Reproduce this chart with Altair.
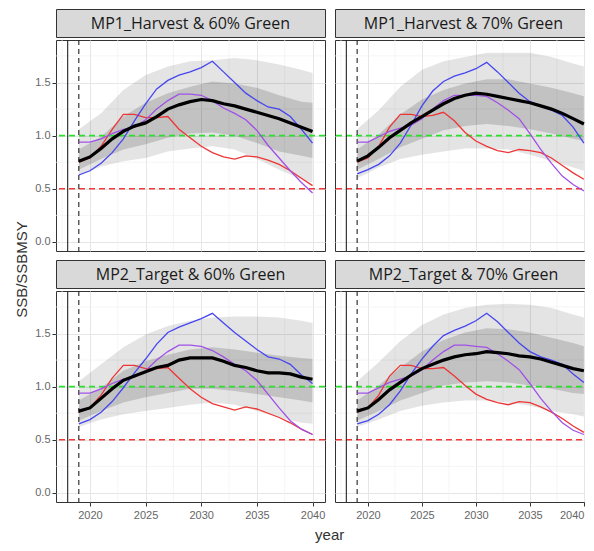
import altair as alt
import pandas as pd

# ---------------- data ----------------
years = list(range(2019, 2041))
band_years = [2019, 2021, 2023, 2025, 2027, 2029, 2031, 2033, 2035, 2037, 2039, 2040]

titles = ["MP1_Harvest & 60% Green", "MP1_Harvest & 70% Green",
          "MP2_Target & 60% Green", "MP2_Target & 70% Green"]

x_ticks = [2020, 2025, 2030, 2035, 2040]
x_minor = [2017.5, 2022.5, 2027.5, 2032.5, 2037.5]
y_ticks = [0.0, 0.5, 1.0, 1.5]
y_minor = [0.25, 0.75, 1.25, 1.75]

ref_green = [1.0]
ref_red = [0.5]
vline_solid = [2018]
vline_dashed = [2019]

p1_median = [0.76,0.80,0.88,0.97,1.04,1.09,1.12,1.18,1.25,1.29,1.32,1.34,1.33,1.30,1.28,1.25,1.22,1.19,1.16,1.12,1.08,1.04]
p1_blue   = [0.63,0.67,0.74,0.84,0.97,1.14,1.30,1.44,1.52,1.57,1.60,1.64,1.70,1.60,1.50,1.40,1.33,1.27,1.25,1.18,1.06,0.93]
p1_purple = [0.94,0.94,0.97,1.02,1.06,1.08,1.15,1.25,1.33,1.39,1.39,1.38,1.33,1.26,1.21,1.15,1.05,0.91,0.79,0.67,0.56,0.46]
p1_red    = [0.75,0.79,0.90,1.06,1.20,1.20,1.17,1.17,1.18,1.06,0.98,0.90,0.84,0.80,0.78,0.81,0.80,0.77,0.73,0.67,0.60,0.53]
p1_outer_hi = [1.06,1.21,1.43,1.57,1.65,1.70,1.71,1.73,1.71,1.67,1.62,1.59]
p1_outer_lo = [0.62,0.71,0.76,0.79,0.85,0.88,0.90,0.87,0.78,0.68,0.59,0.56]
p1_inner_hi = [0.87,0.99,1.18,1.31,1.40,1.46,1.51,1.49,1.45,1.38,1.32,1.31]
p1_inner_lo = [0.68,0.78,0.87,0.92,0.98,1.02,1.03,1.00,0.93,0.85,0.81,0.79]

p2_median = [0.76,0.81,0.89,0.98,1.05,1.12,1.18,1.24,1.30,1.35,1.38,1.40,1.39,1.37,1.35,1.33,1.31,1.28,1.25,1.21,1.16,1.11]
p2_blue   = [0.64,0.68,0.73,0.81,0.93,1.10,1.28,1.42,1.51,1.56,1.59,1.63,1.69,1.60,1.50,1.40,1.32,1.28,1.24,1.19,1.08,0.93]
p2_purple = [0.94,0.94,0.99,1.04,1.07,1.10,1.16,1.25,1.33,1.38,1.38,1.38,1.37,1.31,1.24,1.16,1.02,0.87,0.74,0.62,0.54,0.48]
p2_red    = [0.75,0.79,0.90,1.08,1.20,1.20,1.18,1.19,1.22,1.14,1.03,0.95,0.90,0.86,0.84,0.87,0.86,0.84,0.79,0.72,0.65,0.59]
p2_outer_hi = [1.06,1.24,1.46,1.62,1.70,1.74,1.78,1.78,1.78,1.74,1.68,1.65]
p2_outer_lo = [0.60,0.70,0.78,0.82,0.85,0.88,0.88,0.87,0.82,0.76,0.70,0.67]
p2_inner_hi = [0.87,1.01,1.20,1.34,1.43,1.49,1.53,1.53,1.49,1.45,1.40,1.37]
p2_inner_lo = [0.68,0.78,0.89,0.97,1.05,1.09,1.11,1.09,1.06,1.02,0.97,0.95]

p3_median = [0.77,0.80,0.89,0.98,1.06,1.10,1.14,1.18,1.20,1.25,1.27,1.27,1.27,1.24,1.20,1.18,1.15,1.13,1.13,1.12,1.09,1.07]
p3_blue   = [0.65,0.69,0.76,0.86,0.99,1.13,1.26,1.40,1.51,1.56,1.60,1.64,1.69,1.60,1.51,1.43,1.35,1.28,1.26,1.21,1.11,1.03]
p3_purple = [0.94,0.94,0.98,1.03,1.07,1.09,1.15,1.25,1.33,1.39,1.39,1.38,1.34,1.28,1.21,1.15,1.06,0.93,0.80,0.68,0.60,0.55]
p3_red    = [0.76,0.80,0.92,1.08,1.20,1.20,1.17,1.17,1.18,1.08,0.98,0.90,0.84,0.81,0.78,0.81,0.79,0.75,0.71,0.66,0.60,0.55]
p3_outer_hi = [1.05,1.21,1.37,1.49,1.57,1.62,1.65,1.66,1.66,1.65,1.62,1.60]
p3_outer_lo = [0.62,0.69,0.74,0.77,0.80,0.83,0.85,0.83,0.77,0.71,0.66,0.65]
p3_inner_hi = [0.87,0.99,1.15,1.24,1.30,1.35,1.37,1.35,1.32,1.29,1.27,1.26]
p3_inner_lo = [0.68,0.77,0.85,0.90,0.94,0.98,0.98,0.96,0.93,0.90,0.87,0.85]

p4_median = [0.77,0.80,0.88,0.97,1.04,1.11,1.17,1.21,1.25,1.28,1.30,1.31,1.33,1.32,1.31,1.29,1.28,1.26,1.23,1.20,1.17,1.15]
p4_blue   = [0.65,0.68,0.74,0.83,0.96,1.12,1.26,1.38,1.48,1.53,1.57,1.62,1.69,1.61,1.51,1.41,1.33,1.28,1.25,1.21,1.12,1.04]
p4_purple = [0.94,0.94,0.99,1.04,1.07,1.10,1.16,1.25,1.33,1.39,1.39,1.38,1.37,1.31,1.24,1.16,1.03,0.89,0.77,0.66,0.59,0.55]
p4_red    = [0.76,0.80,0.92,1.10,1.20,1.20,1.17,1.17,1.18,1.10,1.01,0.93,0.88,0.85,0.83,0.86,0.85,0.81,0.76,0.70,0.63,0.57]
p4_outer_hi = [1.05,1.23,1.43,1.58,1.68,1.74,1.77,1.78,1.77,1.74,1.68,1.65]
p4_outer_lo = [0.62,0.69,0.77,0.82,0.85,0.87,0.87,0.85,0.82,0.77,0.74,0.72]
p4_inner_hi = [0.87,1.01,1.18,1.33,1.44,1.51,1.55,1.54,1.51,1.46,1.41,1.38]
p4_inner_lo = [0.68,0.77,0.87,0.94,1.01,1.04,1.05,1.04,1.01,0.98,0.94,0.93]

series_names = ["red", "purple", "blue"]
series_colors = ["#ee3535", "#a050e6", "#4646f0"]

# ---------------- layout constants ----------------
W_LEFT, W_RIGHT = 269, 257
PLOT_H, STRIP_H = 211, 28
ROW_GAP = 6
X_DOM_LEFT = [2016.95, 2041.12]
X_DOM_RIGHT = [2016.95, 2040.75]
Y_DOM = [-0.085, 1.9]
FONT = "Liberation Sans"
GRID = "#e6e6e6"


def strip(title, w):
    return alt.Chart(pd.DataFrame({"label": [title]})).mark_text(
        font="Open Sans", fontSize=16, color="#1a1a1a", baseline="middle"
    ).encode(
        text="label:N", x=alt.value(w / 2), y=alt.value(STRIP_H / 2 + 1)
    ).properties(
        width=w, height=STRIP_H,
        view=alt.ViewBackground(fill="#d9d9d9", stroke="#333333", strokeWidth=1),
    )


def panel(med, blue, purple, red, ohi, olo, ihi, ilo, right, bottom):
    w = W_RIGHT if right else W_LEFT
    xdom = X_DOM_RIGHT if right else X_DOM_LEFT

    if bottom:
        xkw = dict(values=x_ticks, format="d", title=None, grid=True, gridColor=GRID,
                   domain=False, ticks=True, tickColor="#333333", tickSize=4,
                   labelColor="#666666", labelFontSize=11, labelFont=FONT, labelPadding=3)
        if right:
            xkw.update(labelFlush=10, labelFlushOffset=0)
        xaxis = alt.Axis(**xkw)
    else:
        xaxis = alt.Axis(values=x_ticks, title=None, grid=True, gridColor=GRID,
                         domain=False, ticks=False, labels=False)
    if right:
        yaxis = alt.Axis(values=y_ticks, title=None, grid=True, gridColor=GRID,
                         domain=False, ticks=False, labels=False)
    else:
        yaxis = alt.Axis(values=y_ticks, format=".1f", title=None, grid=True, gridColor=GRID,
                         domain=False, ticks=True, tickColor="#333333", tickSize=4,
                         labelColor="#666666", labelFontSize=11, labelFont=FONT, labelPadding=2)

    xs = alt.Scale(domain=xdom, nice=False, zero=False)
    ys = alt.Scale(domain=Y_DOM, nice=False, zero=False)

    def X(field="year"):
        return alt.X(f"{field}:Q", scale=xs, axis=xaxis)

    def Y(field="value"):
        return alt.Y(f"{field}:Q", scale=ys, axis=yaxis)

    minor_v = alt.Chart(pd.DataFrame({"year": x_minor})).mark_rule(
        color="#f1f1f1", strokeWidth=0.7).encode(x=X())
    minor_h = alt.Chart(pd.DataFrame({"value": y_minor})).mark_rule(
        color="#f1f1f1", strokeWidth=0.7).encode(y=Y())

    band_df = pd.DataFrame({"year": band_years, "olo": olo, "ohi": ohi, "ilo": ilo, "ihi": ihi})
    outer = alt.Chart(band_df).mark_area(color="#000000", opacity=0.105).encode(
        x=X(), y=Y("olo"), y2="ohi:Q")
    inner = alt.Chart(band_df).mark_area(color="#000000", opacity=0.15).encode(
        x=X(), y=Y("ilo"), y2="ihi:Q")

    green = alt.Chart(pd.DataFrame({"value": ref_green})).mark_rule(
        color="#2ee02e", strokeWidth=1.6, strokeDash=[6, 4]).encode(y=Y())
    redl = alt.Chart(pd.DataFrame({"value": ref_red})).mark_rule(
        color="#f23a3a", strokeWidth=1.6, strokeDash=[6, 4]).encode(y=Y())
    vsolid = alt.Chart(pd.DataFrame({"year": vline_solid})).mark_rule(
        color="#222222", strokeWidth=1.1).encode(x=X())
    vdash = alt.Chart(pd.DataFrame({"year": vline_dashed})).mark_rule(
        color="#222222", strokeWidth=1.1, strokeDash=[5, 4]).encode(x=X())

    rows = []
    for name, vals in zip(series_names, [red, purple, blue]):
        for yr, v in zip(years, vals):
            rows.append({"year": yr, "value": v, "series": name})
    worms = alt.Chart(pd.DataFrame(rows)).mark_line(strokeWidth=1.3, clip=True).encode(
        x=X(), y=Y(),
        color=alt.Color("series:N", scale=alt.Scale(domain=series_names, range=series_colors),
                        legend=None),
        detail="series:N")

    med_df = pd.DataFrame({"year": years, "value": med})
    median = alt.Chart(med_df).mark_line(color="#000000", strokeWidth=3.2, clip=True).encode(
        x=X(), y=Y())

    return alt.layer(minor_v, minor_h, outer, inner, green, redl, vsolid, vdash,
                     worms, median).properties(
        width=w, height=PLOT_H,
        view=alt.ViewBackground(fill="#ffffff", stroke="#333333", strokeWidth=1))


p1 = panel(p1_median, p1_blue, p1_purple, p1_red, p1_outer_hi, p1_outer_lo, p1_inner_hi, p1_inner_lo, False, False)
p2 = panel(p2_median, p2_blue, p2_purple, p2_red, p2_outer_hi, p2_outer_lo, p2_inner_hi, p2_inner_lo, True, False)
p3 = panel(p3_median, p3_blue, p3_purple, p3_red, p3_outer_hi, p3_outer_lo, p3_inner_hi, p3_inner_lo, False, True)
p4 = panel(p4_median, p4_blue, p4_purple, p4_red, p4_outer_hi, p4_outer_lo, p4_inner_hi, p4_inner_lo, True, True)

col1 = alt.vconcat(alt.vconcat(strip(titles[0], W_LEFT), p1, spacing=0),
                   alt.vconcat(strip(titles[2], W_LEFT), p3, spacing=0), spacing=ROW_GAP)
col2 = alt.vconcat(alt.vconcat(strip(titles[1], W_RIGHT), p2, spacing=0),
                   alt.vconcat(strip(titles[3], W_RIGHT), p4, spacing=0), spacing=ROW_GAP)

total_h = 2 * (STRIP_H + PLOT_H) + ROW_GAP
ytitle = alt.Chart(pd.DataFrame({"value": [0.0]})).mark_point(opacity=0, size=0).encode(
    y=alt.Y("value:Q", axis=alt.Axis(title="SSB/SSBMSY", labels=False, ticks=False, domain=False,
                                     grid=False, titleFontSize=15, titleColor="#333333",
                                     titleFont=FONT, titleFontWeight="normal",
                                     titleY=260, titlePadding=0))
).properties(width=1, height=total_h,
             view=alt.ViewBackground(strokeOpacity=0, fillOpacity=0))

chart = alt.hconcat(ytitle, alt.hconcat(col1, col2, spacing=6), spacing=4).properties(
    padding={"left": 6, "top": 0, "right": -9, "bottom": 0},
    background="#ffffff",
    title=alt.TitleParams("year", orient="bottom", anchor="middle", dx=26, offset=7,
                          fontSize=15, color="#333333", font=FONT, fontWeight="normal"),
)

chart.save("out.html", embed_options={"renderer": "svg", "actions": False})
